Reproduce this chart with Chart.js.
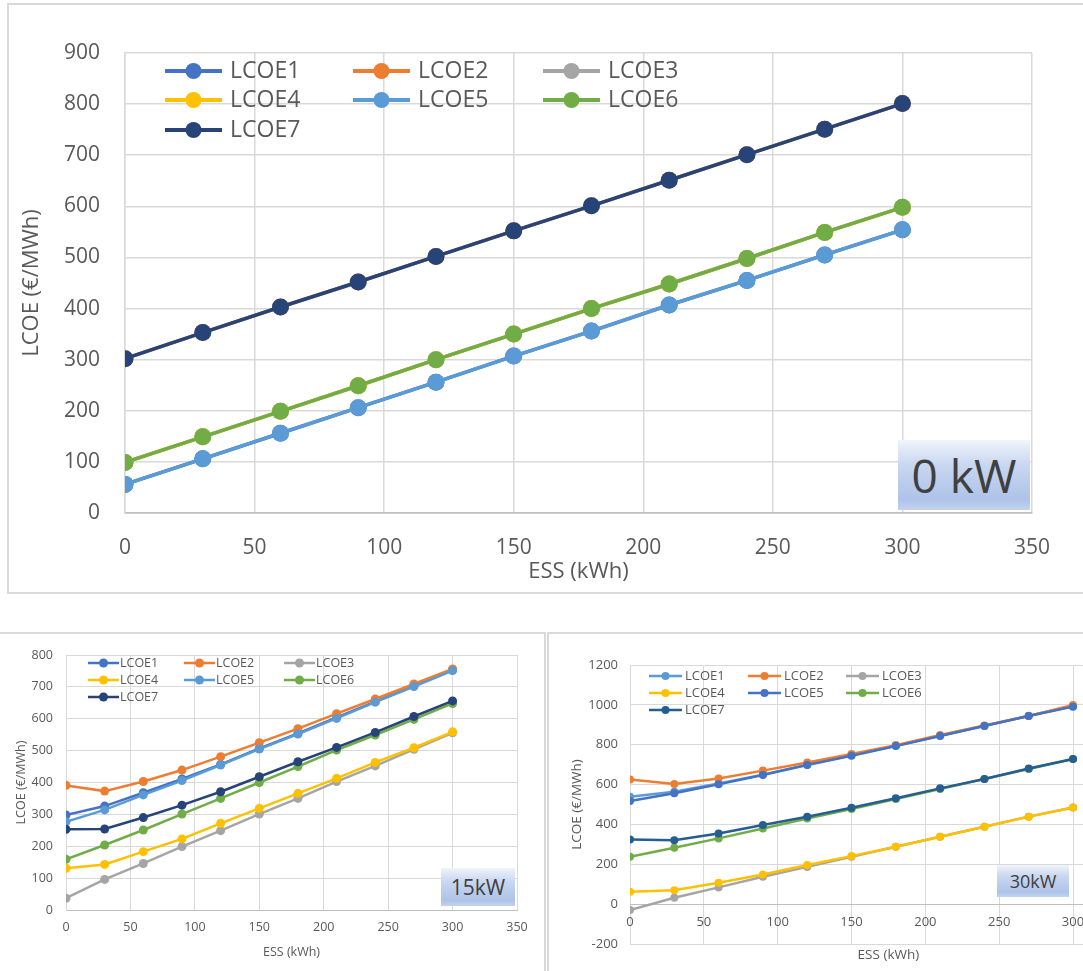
<!DOCTYPE html>
<html>
<head>
<meta charset="utf-8">
<script src="https://cdn.jsdelivr.net/npm/chart.js@4.4.1/dist/chart.umd.min.js"></script>
<style>
  html, body { margin: 0; padding: 0; background: #fff; overflow: hidden; }
  body { width: 1083px; height: 971px; position: relative; font-family: "Open Sans", sans-serif; }
  .frame { position: absolute; border: 2px solid #d9d9d9; box-sizing: border-box; }
  canvas { position: absolute; }
  .tag {
    position: absolute; z-index: 5; color: #404040; box-sizing: border-box;
    display: flex; align-items: center; justify-content: center;
    background: linear-gradient(to bottom, #f0f4fb 0%, #c9d7f0 35%, #aec3e9 85%, #c3d3ef 100%);
    font-family: "Open Sans", sans-serif; white-space: nowrap;
  }
</style>
</head>
<body>
<div class="frame" style="left:7px;top:3px;width:1078px;height:591px;"></div>
<div class="frame" style="left:-4px;top:632px;width:550px;height:350px;"></div>
<div class="frame" style="left:547px;top:632px;width:560px;height:350px;"></div>

<canvas id="chart0kW" width="1083" height="600" style="left:0;top:0;"></canvas>
<canvas id="chart15kW" width="545" height="337" style="left:0;top:634px;"></canvas>
<canvas id="chart30kW" width="620" height="337" style="left:548px;top:634px;"></canvas>

<div class="tag" style="left:898px;top:440px;width:132px;height:70px;font-size:46px;">0 kW</div>
<div class="tag" style="left:441px;top:868px;width:74px;height:38px;font-size:21px;">15kW</div>
<div class="tag" style="left:997px;top:865px;width:72px;height:32px;font-size:18px;">30kW</div>

<script>
// ESS capacity on the x axis (kWh)
const essKWh = [0, 30, 60, 90, 120, 150, 180, 210, 240, 270, 300];
const seriesNames = ['LCOE1', 'LCOE2', 'LCOE3', 'LCOE4', 'LCOE5', 'LCOE6', 'LCOE7'];

// LCOE (€/MWh), PV = 0 kW
const lcoe1_0kW = [56, 106, 156, 206, 256, 307, 356, 407, 455, 505, 554];
const lcoe2_0kW = [302, 353, 403, 452, 502, 552, 601, 651, 701, 751, 801];
const lcoe3_0kW = [99, 149, 199, 249, 300, 350, 400, 448, 498, 549, 598];
const lcoe4_0kW = [99, 149, 199, 249, 300, 350, 400, 448, 498, 549, 598];
const lcoe5_0kW = [56, 106, 156, 206, 256, 307, 356, 407, 455, 505, 554];
const lcoe6_0kW = [99, 149, 199, 249, 300, 350, 400, 448, 498, 549, 598];
const lcoe7_0kW = [302, 353, 403, 452, 502, 552, 601, 651, 701, 751, 801];

// LCOE (€/MWh), PV = 15 kW
const lcoe1_15kW = [298, 326, 368, 411, 457, 507, 554, 604, 654, 703, 753];
const lcoe2_15kW = [391, 373, 403, 439, 481, 525, 569, 616, 662, 709, 756];
const lcoe3_15kW = [37, 96, 146, 199, 249, 301, 350, 403, 452, 504, 556];
const lcoe4_15kW = [131, 143, 183, 223, 272, 319, 366, 413, 463, 509, 559];
const lcoe5_15kW = [277, 314, 361, 406, 455, 505, 552, 601, 652, 701, 751];
const lcoe6_15kW = [159, 204, 251, 301, 350, 400, 450, 502, 549, 598, 648];
const lcoe7_15kW = [253, 254, 290, 329, 371, 418, 465, 510, 557, 607, 656];

// LCOE (€/MWh), PV = 30 kW
const lcoe1_30kW = [539, 564, 606, 650, 700, 747, 795, 845, 895, 945, 993];
const lcoe2_30kW = [626, 603, 631, 670, 711, 753, 798, 849, 896, 944, 999];
const lcoe3_30kW = [-30, 32, 84, 137, 187, 238, 288, 338, 388, 439, 485];
const lcoe4_30kW = [62, 70, 107, 149, 196, 241, 288, 338, 388, 439, 485];
const lcoe5_30kW = [517, 556, 601, 648, 698, 745, 793, 844, 894, 944, 991];
const lcoe6_30kW = [238, 283, 330, 380, 430, 477, 527, 578, 628, 678, 728];
const lcoe7_30kW = [325, 321, 355, 397, 439, 484, 531, 581, 628, 681, 728];

// Office-style series colours
const colors0and15 = ['#4472c4', '#ed7d31', '#a5a5a5', '#ffc000', '#5b9bd5', '#70ad47', '#264478'];
const colors30 = ['#5b9bd5', '#ed7d31', '#a5a5a5', '#ffc000', '#4472c4', '#70ad47', '#255e91'];

const FONT = '"Open Sans", sans-serif';
const TEXT = '#595959';
const GRID = '#d9d9d9';
const plainNumber = v => String(v);

// Legend drawn inside the plot area, three columns
const insideLegend = {
  id: 'insideLegend',
  afterDraw(chart, args, o) {
    const { ctx, chartArea } = chart;
    chart.data.datasets.forEach((ds, i) => {
      const x0 = chartArea.left + o.cols[i % 3];
      const y = chartArea.top + o.rows[Math.floor(i / 3)];
      ctx.save();
      ctx.strokeStyle = ds.borderColor;
      ctx.lineWidth = o.lineWidth;
      ctx.beginPath(); ctx.moveTo(x0, y); ctx.lineTo(x0 + o.lineLen, y); ctx.stroke();
      ctx.fillStyle = ds.borderColor;
      ctx.beginPath(); ctx.arc(x0 + o.lineLen / 2, y, o.radius, 0, Math.PI * 2); ctx.fill();
      ctx.fillStyle = TEXT;
      ctx.font = o.fontSize + 'px ' + FONT;
      ctx.textBaseline = 'middle';
      ctx.textAlign = 'left';
      ctx.fillText(ds.label, x0 + o.textOffset, y);
      ctx.restore();
    });
  }
};

function makeDatasets(series, colors, lineWidth, radius) {
  return series.map((vals, i) => ({
    label: seriesNames[i],
    data: vals.map((v, k) => ({ x: essKWh[k], y: v })),
    borderColor: colors[i],
    backgroundColor: colors[i],
    borderWidth: lineWidth,
    pointRadius: radius,
    pointHoverRadius: radius,
    pointBorderWidth: 0,
    tension: 0,
    order: series.length - i   // later series drawn on top
  }));
}

function buildChart(id, o) {
  const scales = {
    x: {
      type: 'linear', min: 0, max: 350,
      afterFit: s => { s.height = o.xHeight; },
      ticks: { stepSize: 50, display: !o.xAtZero, callback: plainNumber, color: TEXT, padding: o.xTickPad, font: { family: FONT, size: o.tickSize }, maxRotation: 0, autoSkip: false },
      grid: { color: GRID, lineWidth: o.gridWidth, drawTicks: false },
      border: { display: true, color: o.xAtZero ? GRID : '#bfbfbf', width: o.gridWidth },
      title: { display: true, text: 'ESS (kWh)', color: TEXT, font: { family: FONT, size: o.titleSize }, padding: { top: 0, bottom: o.xTitlePad } }
    },
    y: {
      type: 'linear', min: o.yMin, max: o.yMax,
      afterFit: s => { s.width = o.yWidth; },
      ticks: { stepSize: o.yStep, callback: plainNumber, color: TEXT, padding: o.yTickPad, font: { family: FONT, size: o.tickSize } },
      grid: { color: c => (c.tick && c.tick.value === 0 ? '#bfbfbf' : GRID), lineWidth: o.gridWidth, drawTicks: false },
      border: { display: true, color: GRID, width: o.gridWidth },
      title: { display: true, text: 'LCOE (€/MWh)', color: TEXT, font: { family: FONT, size: o.titleSize }, padding: { top: o.yTitlePad, bottom: 0 } }
    }
  };
  if (o.xAtZero) {
    // category labels sit along the zero line
    scales.x2 = {
      type: 'linear', axis: 'x', position: { y: 0 }, min: 0, max: 350,
      afterFit: s => { s.height = 0; },
      ticks: { stepSize: 50, callback: plainNumber, color: TEXT, padding: o.xTickPad, font: { family: FONT, size: o.tickSize }, maxRotation: 0, autoSkip: false },
      grid: { display: false, drawTicks: false },
      border: { display: true, color: '#bfbfbf', width: o.gridWidth }
    };
  }
  return new Chart(document.getElementById(id), {
    type: 'line',
    data: { datasets: makeDatasets(o.series, o.colors, o.lineWidth, o.pointRadius) },
    options: {
      responsive: false,
      animation: false,
      events: [],
      layout: { padding: { left: 0, top: o.padTop, right: o.padRight, bottom: 0 } },
      scales,
      plugins: {
        legend: { display: false },
        tooltip: { enabled: false },
        insideLegend: o.legend
      }
    },
    plugins: [insideLegend]
  });
}

buildChart('chart0kW', {
  series: [lcoe1_0kW, lcoe2_0kW, lcoe3_0kW, lcoe4_0kW, lcoe5_0kW, lcoe6_0kW, lcoe7_0kW],
  colors: colors0and15,
  yMin: 0, yMax: 900, yStep: 100,
  padTop: 53, padRight: 51, yWidth: 125, xHeight: 87,
  tickSize: 21, titleSize: 22, xTickPad: 22, yTickPad: 25, yTitlePad: 19, xTitlePad: 15,
  gridWidth: 1.5, lineWidth: 3.5, pointRadius: 8.5,
  legend: { cols: [40, 228, 418], rows: [18, 47, 77], lineLen: 57, textOffset: 65, lineWidth: 4, radius: 8, fontSize: 23 }
});

buildChart('chart15kW', {
  series: [lcoe1_15kW, lcoe2_15kW, lcoe3_15kW, lcoe4_15kW, lcoe5_15kW, lcoe6_15kW, lcoe7_15kW],
  colors: colors0and15,
  yMin: 0, yMax: 800, yStep: 100,
  padTop: 21, padRight: 28, yWidth: 66, xHeight: 61,
  tickSize: 12.5, titleSize: 12.5, xTickPad: 10, yTickPad: 13, yTitlePad: 14, xTitlePad: 11,
  gridWidth: 1, lineWidth: 2.5, pointRadius: 4.5,
  legend: { cols: [22, 118, 218], rows: [8, 25, 42], lineLen: 31, textOffset: 32, lineWidth: 2.5, radius: 4.5, fontSize: 12.5 }
});

buildChart('chart30kW', {
  series: [lcoe1_30kW, lcoe2_30kW, lcoe3_30kW, lcoe4_30kW, lcoe5_30kW, lcoe6_30kW, lcoe7_30kW],
  colors: colors30,
  yMin: -200, yMax: 1200, yStep: 200,
  padTop: 31, padRight: 19, yWidth: 82, xHeight: 27, xAtZero: true,
  tickSize: 13, titleSize: 13.5, xTickPad: 10, yTickPad: 12, yTitlePad: 21, xTitlePad: 8,
  gridWidth: 1, lineWidth: 2.5, pointRadius: 4,
  legend: { cols: [19, 118, 216], rows: [11, 28, 45], lineLen: 33, textOffset: 36, lineWidth: 2.5, radius: 4, fontSize: 13 }
});
</script>
</body>
</html>
